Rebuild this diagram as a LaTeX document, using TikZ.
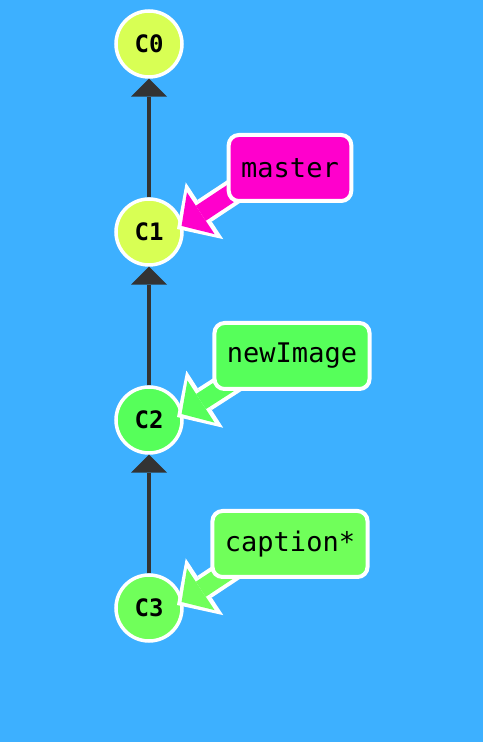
\documentclass[tikz,border=0pt]{standalone}
\usepackage{fontspec}
\setmonofont{DejaVu Sans Mono}
\usepackage{tikz}
\usetikzlibrary{arrows.meta, positioning}

\definecolor{skyblue}{RGB}{61,176,255}
\definecolor{lime}{RGB}{216,255,84}
\definecolor{grassgreen}{RGB}{86,255,90}
\definecolor{lightgreen}{RGB}{112,255,90}
\definecolor{hotpink}{RGB}{255,0,204}
\definecolor{darkline}{RGB}{51,51,51}

\pgfdeclarelayer{front}
\pgfsetlayers{main,front}

% fat branch pointer: white outline first, then the coloured arrow on top
\newcommand{\pointer}[3]{%
  \draw[ptrwhite] ([shift={(-42,-14)}]#1.center) -- ([shift={(28,3)}]#2.center);
  \draw[ptrfill, draw=#3, fill=#3] ([shift={(-42,-14)}]#1.center) -- ([shift={(28,3)}]#2.center);
}

\begin{document}
\begin{tikzpicture}[
  x=1pt, y=1pt,
  node distance=118.5pt,
  commit/.style={circle, draw=white, line width=3.5pt, minimum size=66pt, inner sep=0pt, font=\ttfamily\bfseries\fontsize{24}{24}\selectfont},
  branch/.style={rectangle, draw=white, line width=4pt, rounded corners=10pt, minimum height=66pt, inner xsep=12.5pt, font=\ttfamily\fontsize{27}{27}\selectfont},
  parent/.style={draw=darkline, line width=4pt, -{Triangle[width=36pt,length=18pt,line width=0pt]}},
  ptrwhite/.style={draw=white, line width=26pt, -{Triangle[width=68pt,length=33pt,line width=0pt]}},
  ptrfill/.style={line width=18pt, shorten >=5.5pt, -{Triangle[width=50pt,length=23pt,line width=0pt]}}
]
  \fill[skyblue] (0,0) rectangle (483,742);
  \useasboundingbox (0,0) rectangle (483,742);

  % commits
  \node[commit, fill=lime] (C0) at (149,698) {C0};
  \node[commit, fill=lime, below=of C0] (C1) {C1};
  \node[commit, fill=grassgreen, below=of C1] (C2) {C2};
  \node[commit, fill=lightgreen, below=of C2] (C3) {C3};

  % branch labels
  \begin{pgfonlayer}{front}
    \node[branch, fill=hotpink] (master) at (290,574) {master};
    \node[branch, fill=grassgreen] (newImage) at (292,386) {newImage};
    \node[branch, fill=lightgreen] (caption) at (290,198) {caption*};
  \end{pgfonlayer}

  \draw[parent] (C1) -- (C0);
  \draw[parent] (C2) -- (C1);
  \draw[parent] (C3) -- (C2);

  \pointer{master}{C1}{hotpink}
  \pointer{newImage}{C2}{grassgreen}
  \pointer{caption}{C3}{lightgreen}
\end{tikzpicture}
\end{document}
